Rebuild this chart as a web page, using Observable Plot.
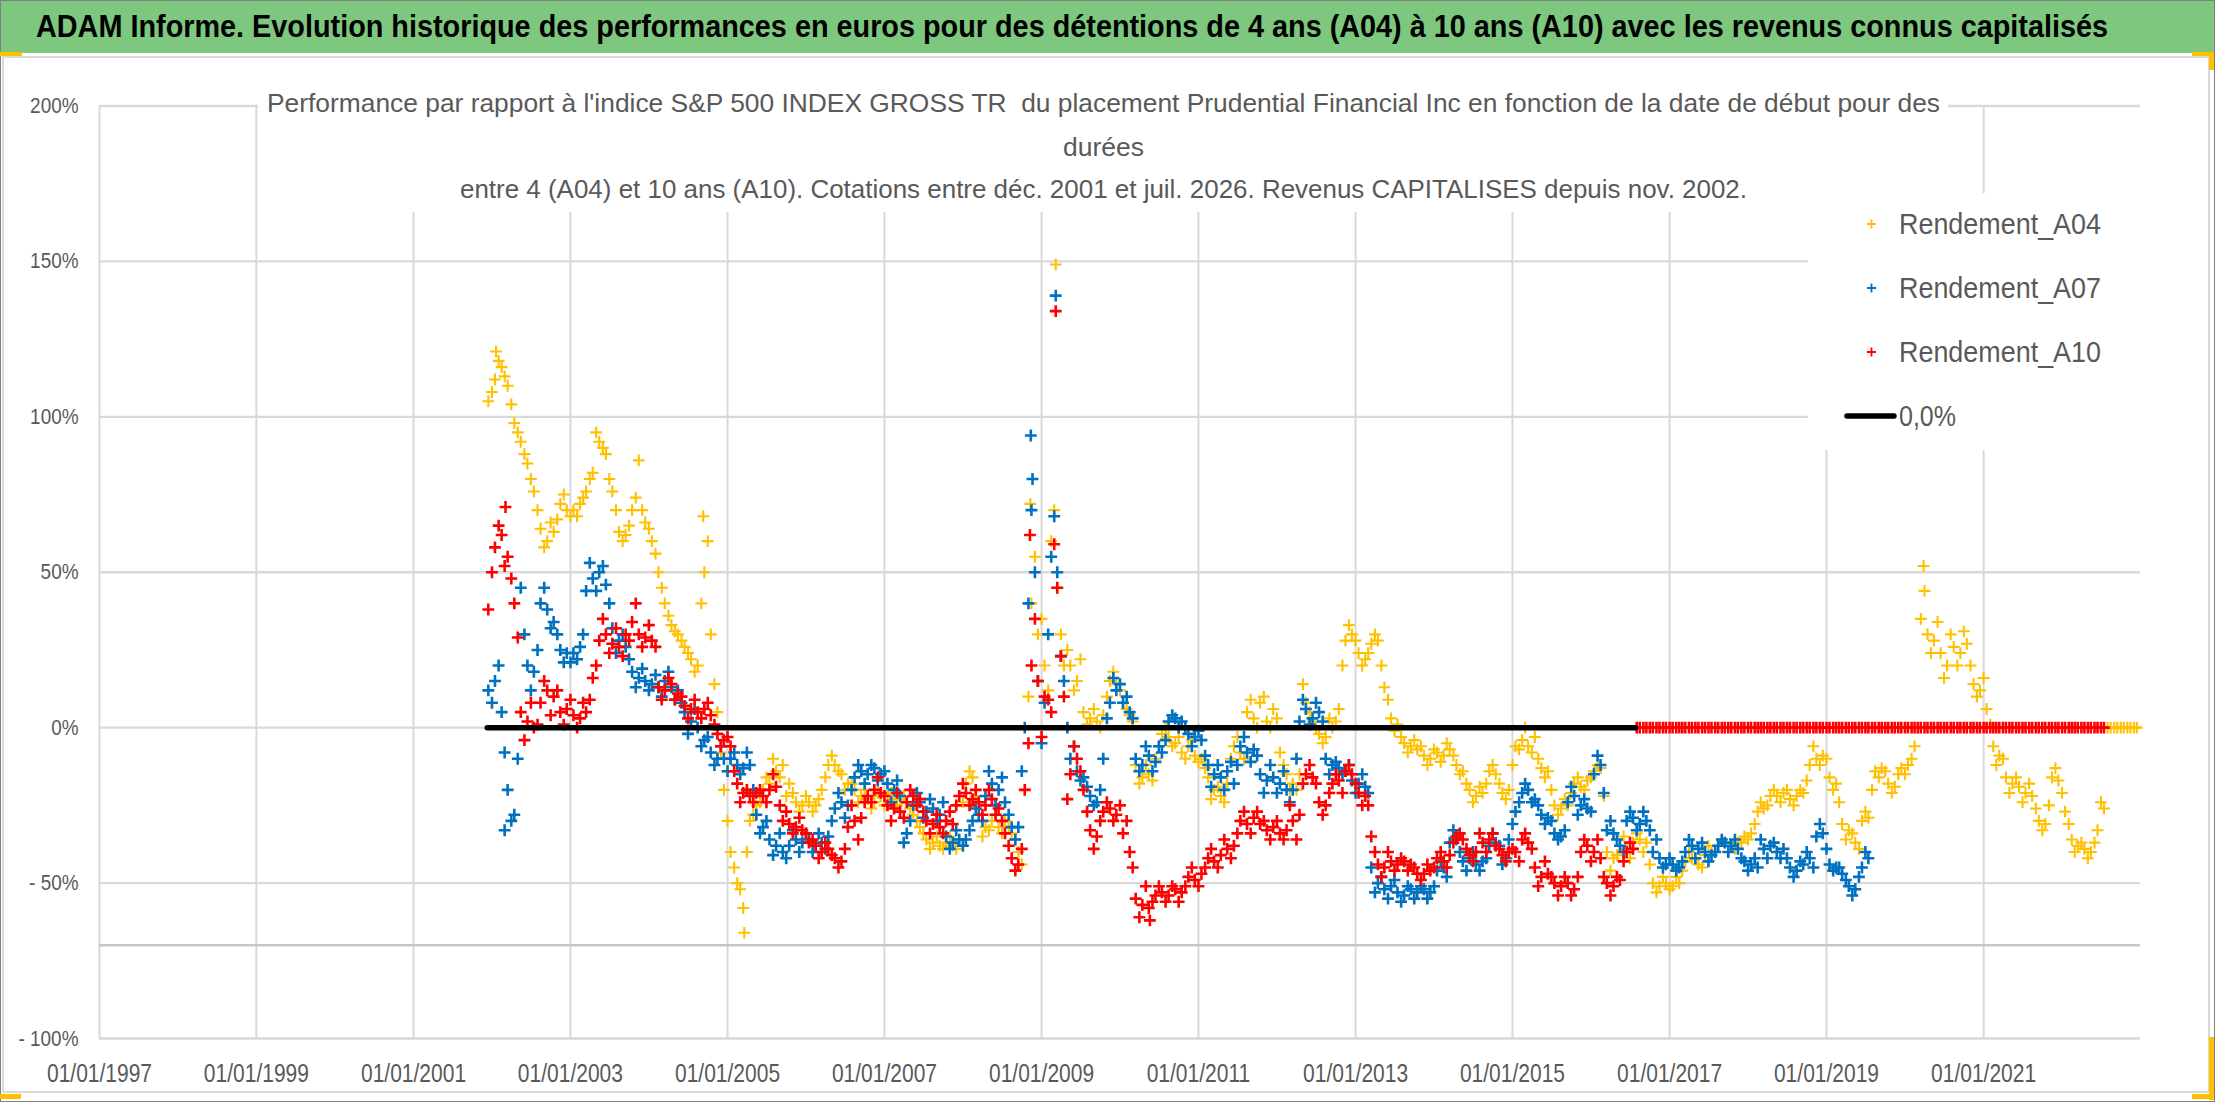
<!DOCTYPE html>
<html><head><meta charset="utf-8">
<script src="https://cdn.jsdelivr.net/npm/d3@7"></script>
<script src="https://cdn.jsdelivr.net/npm/@observablehq/plot@0.6"></script>
<style>
html,body{margin:0;padding:0;background:#fff;}
#wrap{position:relative;width:2216px;height:1102px;overflow:hidden;background:#fff;font-family:"Liberation Sans",Arial,sans-serif;}
.ov{position:absolute;box-sizing:border-box;pointer-events:none;}
#title{position:absolute;left:36px;top:7px;white-space:nowrap;font-weight:bold;font-size:31px;line-height:40px;color:#000;transform-origin:0 0;z-index:3;display:inline-block;}
</style></head>
<body><div id="wrap"></div>
<script>
// ---------- DATA ----------
const titleText = "ADAM Informe. Evolution historique des performances en euros pour des détentions de 4 ans (A04) à 10 ans (A10) avec les revenus connus capitalisés";
const subtitleLines = [
  "Performance par rapport à l'indice S&P 500 INDEX GROSS TR  du placement Prudential Financial Inc en fonction de la date de début pour des",
  "durées",
  "entre 4 (A04) et 10 ans (A10). Cotations entre déc. 2001 et juil. 2026. Revenus CAPITALISES depuis nov. 2002."
];
const seriesNames = ["Rendement_A04", "Rendement_A07", "Rendement_A10"];
const lineName = "0,0%";
const seriesColors = ["#FFC000", "#0070C0", "#FF0000"];

const xTickLabels = ["01/01/1997","01/01/1999","01/01/2001","01/01/2003","01/01/2005","01/01/2007","01/01/2009","01/01/2011","01/01/2013","01/01/2015","01/01/2017","01/01/2019","01/01/2021"];
const xDomain = ["1997-01-01", "2023-01-01"];
const yTicks = [-100, -50, 0, 50, 100, 150, 200];
const yTickLabels = ["- 100%", "- 50%", "0%", "50%", "100%", "150%", "200%"];
const yDomain = [-100, 200];
const axisCrossValue = [-70];

// readings on the 15th of each month (%), first month = December 2001
const firstMonthMid = "2001-12";
const a04 = [
105,
112,116,110,98,92,85,76,64,60,63,72,70,
70,72,76,82,92,88,76,63,62,70,86,66,
60,50,40,33,30,26,22,20,50,30,5,-20,
-40,-50,-58,-30,-25,-20,-18,-14,-12,-18,-24,-25,
-24,-25,-20,-12,-12,-15,-18,-20,-22,-23,-24,-22,
-22,-23,-23,-24,-28,-32,-36,-37,-38,-37,-38,-36,
-18,-16,-28,-32,-30,-32,-30,-34,-40,-20,40,30,
20,60,45,20,20,15,5,3,2,4,15,14,
8,4,-12,-16,-15,-10,-2,-3,-5,-8,-6,-9,
-10,-16,-20,-22,-18,-6,-8,5,3,8,2,6,
-8,-15,-18,-15,8,2,-2,-3,0,6,28,30,
24,22,27,28,13,3,1,-5,-6,-7,-9,-10,
-8,-9,-7,-12,-14,-20,-22,-21,-14,-15,-21,-20,
-6,-4,-6,-3,-13,-14,-25,-26,-25,-18,-19,-17,
-14,-13,-40,-42,-38,-39,-37,-36,-37,-50,-51,-50,
-51,-50,-43,-42,-44,-41,-40,-38,-37,-38,-37,-35,
-34,-27,-26,-22,-22,-21,-23,-22,-21,-12,-10,-9,
-16,-18,-31,-33,-37,-30,-29,-14,-13,-18,-19,-13,
-12,-6,35,30,28,24,20,26,24,27,14,12,
6,-6,-9,-16,-18,-19,-21,-22,-30,-31,-16,-17,
-27,-36,-38,-39,-40,-33,-26,0,0,0,0,0
];
const a07 = [
12,
15,5,-20,-28,45,20,18,40,38,34,25,24,
24,26,44,48,50,46,32,28,26,18,16,15,
14,13,15,13,12,5,2,0,-4,-8,-10,-10,
-10,-12,-13,-12,-28,-32,-36,-38,-40,-38,-36,-37,
-36,-38,-37,-35,-26,-24,-25,-16,-14,-15,-13,-15,
-18,-20,-22,-34,-25,-24,-27,-26,-28,-35,-37,-36,
-36,-30,-28,-22,-18,-20,-24,-32,-32,0,70,15,
8,55,50,15,-10,-14,-16,-22,-24,-10,8,12,
8,5,-10,-12,-9,-11,-8,2,3,2,-2,-3,
-4,-12,-15,-16,-14,-18,-6,-8,-7,-15,-17,-16,
-18,-20,-20,2,6,3,5,-10,-12,-13,-14,-17,
-18,-19,-45,-50,-52,-51,-53,-54,-52,-53,-52,-53,
-46,-45,-37,-36,-43,-42,-44,-43,-38,-37,-44,-36,
-27,-21,-20,-23,-28,-29,-34,-35,-24,-22,-25,-26,
-15,-12,-33,-34,-38,-30,-29,-31,-30,-40,-42,-44,
-44,-45,-40,-38,-39,-40,-41,-38,-37,-38,-39,-43,
-44,-45,-39,-38,-40,-39,-45,-46,-44,-42,-35,-34,
-44,-45,-47,-51,-52,-45,-42
];
const a10 = [
38,
58,62,55,40,5,2,0,8,12,10,5,6,
4,3,5,16,28,30,27,26,30,34,30,29,
28,13,12,14,11,7,6,5,6,4,-2,-4,
-6,-18,-21,-22,-21,-22,-20,-19,-30,-31,-32,-33,
-37,-38,-40,-39,-42,-43,-32,-30,-29,-22,-20,-21,
-25,-26,-27,-24,-22,-23,-30,-31,-32,-30,-31,-22,
-21,-23,-24,-25,-23,-26,-34,-42,-44,-20,20,15,
10,5,45,10,-15,-10,-20,-33,-35,-27,-26,-28,
-34,-40,-55,-57,-58,-54,-53,-54,-52,-53,-48,-49,
-47,-42,-43,-41,-39,-38,-30,-31,-29,-31,-33,-32,
-34,-33,-30,-28,-15,-16,-24,-25,-18,-17,-14,-15,
-21,-22,-35,-44,-45,-43,-44,-43,-44,-47,-47,-46,
-42,-43,-41,-35,-36,-41,-40,-37,-36,-38,-41,-40,
-40,-36,-37,-45,-48,-47,-50,-51,-50,-52,-40,-38,
-40,-42,-50,-51,-49,-40,-39,0,0,0,0,0,
0,0,0,0,0,0,0,0,0,0,0,0,
0,0,0,0,0,0,0,0,0,0,0,0,
0,0,0,0,0,0,0,0,0,0,0,0,
0,0,0,0,0,0,0,0,0,0,0,0,
0,0,0,0,0,0,0,0,0,0,0,0,
0,0,0,0,0,0,0
];
// readings on the 1st of each month (other edge of the cloud), first month = January 2002
const firstMonthStart = "2002-01";
const a04b = [
108,118,113,104,95,88,80,70,58,66,67,75,
68,68,74,80,95,90,80,70,60,65,74,70,
64,56,45,36,31,28,24,18,40,60,14,-8,
-30,-45,-52,-40,-28,-24,-16,-10,-16,-22,-21,-27,
-22,-27,-23,-16,-9,-14,-20,-18,-24,-20,-26,-21,
-25,-21,-25,-22,-26,-30,-34,-39,-35,-39,-35,-39,
-24,-14,-22,-35,-33,-28,-34,-32,-36,-44,10,55,
35,12,70,30,25,12,22,1,6,0,10,18,
12,6,2,-18,-12,-17,-6,0,-6,-3,-10,-4,
-11,-13,-23,-19,-24,-10,-3,-10,9,0,10,0,
3,-12,-20,-20,14,5,0,-5,3,2,20,33,
28,20,24,30,20,9,-1,-3,-8,-4,-6,-12,
-7,-11,-5,-9,-15,-18,-24,-19,-18,-12,-18,-23,
-12,-7,0,-8,-10,-16,-20,-28,-23,-21,-16,-20,
-16,-12,-22,-46,-41,-35,-42,-34,-40,-44,-53,-48,
-52,-48,-46,-40,-42,-45,-38,-40,-36,-40,-39,-37,
-36,-31,-24,-25,-20,-24,-20,-25,-20,-17,-6,-12,
-10,-20,-24,-36,-34,-39,-27,-20,-16,-14,-21,-15,
-15,-10,0,44,24,34,16,30,20,31,20,10,
16,1,-12,-10,-21,-16,-24,-18,-26,-33,-25,-13,
-21,-31,-40,-37,-42,-37,-24,0,0,0,0,0
];
const a07b = [
8,20,-8,-30,-10,30,12,25,45,32,30,21,
21,22,30,53,44,52,40,24,30,22,13,19,
12,17,10,18,9,8,-2,6,-6,-3,-12,-6,
-14,-8,-15,-8,-20,-34,-30,-41,-34,-42,-33,-40,
-34,-40,-34,-39,-30,-21,-29,-20,-12,-18,-12,-17,
-14,-24,-17,-37,-30,-21,-29,-23,-30,-24,-39,-33,
-38,-33,-26,-30,-14,-25,-16,-28,-36,-14,40,50,
-5,30,68,23,0,-6,-17,-19,-25,-20,3,16,
14,10,3,-14,-6,-14,-6,-4,4,0,0,-6,
-1,-9,-19,-12,-20,-11,-12,-3,-11,-9,-21,-12,
-21,-14,-24,-10,9,1,8,2,-15,-11,-15,-12,
-21,-15,-21,-53,-48,-55,-49,-56,-51,-55,-51,-55,
-51,-43,-48,-33,-40,-46,-40,-46,-42,-34,-38,-42,
-31,-24,-18,-24,-25,-31,-30,-36,-33,-19,-28,-23,
-27,-9,-21,-30,-36,-40,-27,-33,-27,-33,-36,-45,
-42,-46,-43,-36,-42,-37,-43,-40,-36,-40,-36,-42,
-46,-42,-36,-42,-37,-42,-42,-48,-43,-40,-45,-31,
-39,-46,-45,-49,-54,-48,-40
];
const a10b = [
50,65,52,48,29,-4,8,1,15,4,12,1,
9,0,8,9,20,35,24,32,23,28,40,26,
33,26,9,16,9,10,3,9,3,8,1,-6,
-3,-14,-24,-20,-24,-20,-24,-15,-25,-27,-34,-29,
-34,-36,-42,-37,-41,-45,-39,-25,-36,-24,-24,-16,
-22,-30,-21,-29,-20,-25,-27,-34,-28,-34,-27,-25,
-18,-25,-20,-28,-20,-28,-30,-38,-46,-39,-5,35,
-3,9,59,23,-23,-6,-14,-27,-39,-30,-24,-30,
-25,-30,-45,-61,-51,-56,-51,-56,-51,-56,-51,-45,
-51,-45,-39,-45,-36,-42,-34,-27,-34,-27,-30,-36,
-30,-36,-25,-36,-18,-12,-18,-28,-21,-15,-21,-12,
-18,-25,-25,-40,-48,-40,-46,-42,-46,-45,-49,-44,
-45,-40,-45,-37,-34,-39,-43,-34,-40,-34,-39,-43,
-39,-43,-34,-39,-51,-43,-48,-54,-48,-54,-48,-36,
-43,-36,-48,-54,-48,-43,-37,0,0,0,0,0,
0,0,0,0,0,0,0,0,0,0,0,0,
0,0,0,0,0,0,0,0,0,0,0,0,
0,0,0,0,0,0,0,0,0,0,0,0,
0,0,0,0,0,0,0,0,0,0,0,0,
0,0,0,0,0,0,0,0,0,0,0,0,
0,0,0,0,0,0,0
];
// isolated points (spikes)
const a04ExtraDates = ["2002-01-20","2004-09-10","2005-03-20","2008-11-10","2009-03-08","2020-03-28"];
const a04ExtraValues = [121, 68, -66, 72, 149, 52];
const a07ExtraDates = ["2002-03-01","2008-11-12","2008-11-20","2009-03-08"];
const a07ExtraValues = [-33, 94, 80, 139];
const a10ExtraDates = ["2002-03-05","2008-11-08","2009-03-08","2010-05-20"];
const a10ExtraValues = [71, 62, 134, -62];
// the 0,0% line
const zeroLineDates = ["2001-12-10", "2016-07-26"];
const zeroLineValues = [0, 0];

// ---------- BUILD ----------
const ym = s => s.split("-").map(Number);
const monthly = (vals, start, day) => { const [y, m] = ym(start); return vals.map((v, i) => ({date: new Date(Date.UTC(y, m - 1 + i, day)), value: v})); };
const extra = (ds, vs) => ds.map((d, i) => ({date: new Date(d + "T00:00:00Z"), value: vs[i]}));
const rows = [
  monthly(a04, firstMonthMid, 15).concat(monthly(a04b, firstMonthStart, 1), extra(a04ExtraDates, a04ExtraValues)),
  monthly(a07, firstMonthMid, 15).concat(monthly(a07b, firstMonthStart, 1), extra(a07ExtraDates, a07ExtraValues)),
  monthly(a10, firstMonthMid, 15).concat(monthly(a10b, firstMonthStart, 1), extra(a10ExtraDates, a10ExtraValues))
];
const zeroRows = zeroLineDates.map((d, i) => ({date: new Date(d + "T00:00:00Z"), value: zeroLineValues[i]}));
const xTicks = xTickLabels.map(s => { const [dd, mm, yy] = s.split("/").map(Number); return new Date(Date.UTC(yy, mm - 1, dd)); });
const xDom = xDomain.map(d => new Date(d + "T00:00:00Z"));

const W = 2216, H = 1102;
const wrap = document.getElementById("wrap");

const chart = Plot.plot({
  width: W, height: H,
  marginLeft: 99, marginRight: 76, marginTop: 105.5, marginBottom: 64,
  style: {background: "transparent", fontFamily: "'Liberation Sans', Arial, sans-serif", fontSize: "25px", color: "#595959", overflow: "visible"},
  x: {type: "utc", domain: xDom, ticks: xTicks, tickSize: 0, tickPadding: 26, label: null,
      tickFormat: d => xTickLabels[xTicks.findIndex(t => +t === +d)]},
  y: {domain: yDomain, ticks: yTicks, tickSize: 0, tickPadding: 21, label: null,
      tickFormat: d => yTickLabels[yTicks.indexOf(d)]},
  marks: [
    Plot.ruleX(xTicks, {stroke: "#d9d9d9", strokeWidth: 2}),
    Plot.ruleY(yTicks, {stroke: "#d9d9d9", strokeWidth: 2.4}),
    Plot.ruleY(axisCrossValue, {stroke: "#c6c6c6", strokeWidth: 2.6}),
    ...rows.map((r, k) => Plot.dot(r, {x: "date", y: "value", symbol: "plus", r: 3.9, stroke: seriesColors[k], strokeWidth: k === 0 ? 2.1 : 2.6})),
    Plot.line(zeroRows, {x: "date", y: "value", stroke: "#000", strokeWidth: 5.5})
  ]
});
chart.style.position = "absolute"; chart.style.left = "0px"; chart.style.top = "0px"; chart.style.zIndex = 1;
wrap.appendChild(chart);

// condensed tick labels (Calibri-like width)
function condense(sel, size, factor) {
  chart.querySelectorAll(sel).forEach(t => {
    t.style.fontSize = size + "px";
    const L = t.getComputedTextLength();
    t.setAttribute("textLength", (L * factor).toFixed(1));
    t.setAttribute("lengthAdjust", "spacingAndGlyphs");
  });
}
condense('[aria-label^="x-axis"] text', 25, 0.84);
condense('[aria-label^="y-axis"] text', 22, 0.86);

// ---------- DECOR / OVERLAYS ----------
function box(css) { const d = document.createElement("div"); d.className = "ov"; Object.assign(d.style, css); wrap.appendChild(d); return d; }
box({left: "2px", top: "56px", width: "2208px", height: "1037px", border: "2px solid #d9d9d9", zIndex: 0});
box({left: "0px", top: "0px", width: "2214px", height: "53px", background: "#7ec77e", zIndex: 2});
box({left: "258px", top: "86px", width: "1690px", height: "126px", background: "#fff", zIndex: 2});
box({left: "1808px", top: "193px", width: "332px", height: "257px", background: "#fff", zIndex: 2});
box({left: "0px", top: "0px", width: "2215px", height: "1102px", border: "1px solid #7f7f7f", zIndex: 4});
const Y = "#FFC000";
box({left: "0px", top: "52px", width: "22px", height: "4px", background: Y, zIndex: 5});
box({left: "2192px", top: "52px", width: "22px", height: "4px", background: Y, zIndex: 5});
box({left: "2209px", top: "52px", width: "5px", height: "18px", background: Y, zIndex: 5});
box({left: "2209px", top: "1037px", width: "5px", height: "63px", background: Y, zIndex: 5});
box({left: "2192px", top: "1094px", width: "22px", height: "5px", background: Y, zIndex: 5});
box({left: "0px", top: "1094px", width: "21px", height: "5px", background: Y, zIndex: 5});

// title (HTML, horizontally condensed to the reference width)
const t = document.createElement("div");
t.id = "title"; t.textContent = titleText; wrap.appendChild(t);
const natural = t.getBoundingClientRect().width;
t.style.transform = `scaleX(${(2072 / natural).toFixed(4)})`;

const ov = d3.create("svg").attr("width", W).attr("height", H)
  .attr("class", "ov").style("left", "0px").style("top", "0px").style("z-index", 3)
  .style("font-family", "'Liberation Sans', Arial, sans-serif");
// subtitle
const subY = [112, 155.5, 198], subW = [1673, 81, 1287];
subtitleLines.forEach((s, i) => ov.append("text").attr("x", 1103.5).attr("y", subY[i]).attr("text-anchor", "middle")
  .attr("font-size", 26).attr("fill", "#595959").style("white-space", "pre")
  .attr("textLength", subW[i]).attr("lengthAdjust", "spacingAndGlyphs").text(s));
// legend
const legY = [234, 298, 362];
seriesNames.forEach((n, i) => {
  const g = ov.append("g");
  g.append("path").attr("d", `M1867,${legY[i]-10}h9M1871.5,${legY[i]-14.5}v9`).attr("stroke", seriesColors[i]).attr("stroke-width", 1.8);
  g.append("text").attr("x", 1899).attr("y", legY[i]).attr("font-size", 29).attr("fill", "#595959")
    .attr("textLength", 202).attr("lengthAdjust", "spacingAndGlyphs").text(n);
});
ov.append("line").attr("x1", 1847).attr("x2", 1894).attr("y1", 416).attr("y2", 416)
  .attr("stroke", "#000").attr("stroke-width", 5.5).attr("stroke-linecap", "round");
ov.append("text").attr("x", 1899).attr("y", 426).attr("font-size", 29).attr("fill", "#595959")
  .attr("textLength", 57).attr("lengthAdjust", "spacingAndGlyphs").text(lineName);
wrap.appendChild(ov.node());
</script></body></html>
